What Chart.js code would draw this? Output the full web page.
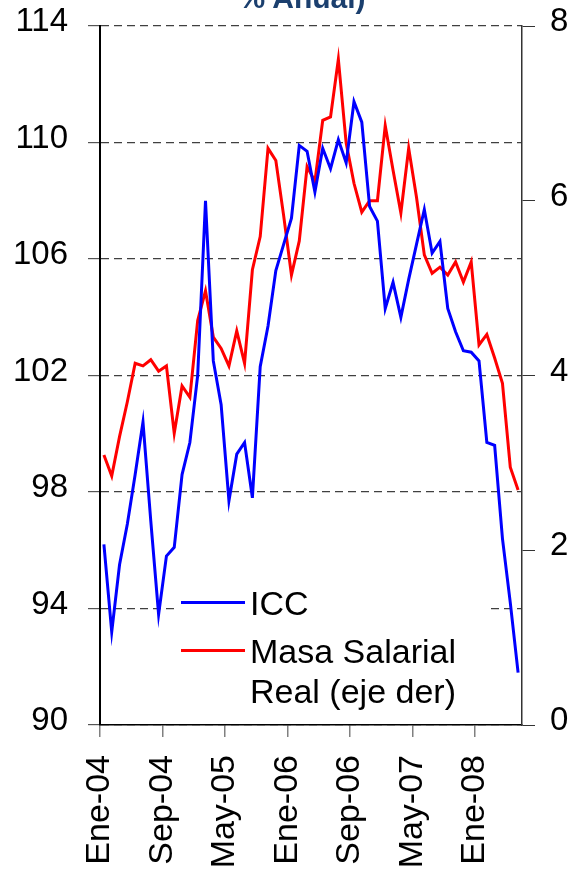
<!DOCTYPE html>
<html lang="es">
<head>
<meta charset="utf-8">
<title>ICC y Masa Salarial Real</title>
<script src="https://cdn.jsdelivr.net/npm/chart.js@4.4.1/dist/chart.umd.min.js"></script>
<style>
  html, body { margin: 0; padding: 0; background: #fff; }
  #wrap { position: relative; width: 579px; height: 869px; overflow: hidden; font-family: 'Liberation Sans', Arial, sans-serif; }
  #chart { position: absolute; left: 0; top: 0; }
  #title { position: absolute; left: 0; width: 604px; top: -17px; text-align: center; font-weight: bold; font-size: 30px; line-height: 30px; color: #1b3f6e; }
  #legend { position: absolute; left: 177px; top: 574px; width: 312px; height: 130px; background: #fff; }
  .swatch { position: absolute; left: 4px; width: 64px; height: 3px; }
  .label { position: absolute; left: 73px; font-size: 34px; line-height: 40px; color: #000; white-space: nowrap; }
</style>
</head>
<body>
<div id="wrap">
  <canvas id="chart" width="579" height="869"></canvas>
  <div id="title">% Anual)</div>
  <div id="legend"></div>
</div>
<script>
// Data
const months = [
  'Ene-04', 'Feb-04', 'Mar-04', 'Abr-04', 'May-04', 'Jun-04', 'Jul-04', 'Ago-04', 'Sep-04', 'Oct-04', 'Nov-04', 'Dic-04',
  'Ene-05', 'Feb-05', 'Mar-05', 'Abr-05', 'May-05', 'Jun-05', 'Jul-05', 'Ago-05', 'Sep-05', 'Oct-05', 'Nov-05', 'Dic-05',
  'Ene-06', 'Feb-06', 'Mar-06', 'Abr-06', 'May-06', 'Jun-06', 'Jul-06', 'Ago-06', 'Sep-06', 'Oct-06', 'Nov-06', 'Dic-06',
  'Ene-07', 'Feb-07', 'Mar-07', 'Abr-07', 'May-07', 'Jun-07', 'Jul-07', 'Ago-07', 'Sep-07', 'Oct-07', 'Nov-07', 'Dic-07',
  'Ene-08', 'Feb-08', 'Mar-08', 'Abr-08', 'May-08', 'Jun-08'
];

// ICC (eje izq)
const icc = [
  96.2, 93.2, 95.5, 96.9, 98.6, 100.4, 97.0, 93.8, 95.8, 96.1, 98.6, 99.7,
  102.0, 108.0, 102.5, 101.0, 97.7, 99.3, 99.7, 97.8, 102.3, 103.7, 105.6, 106.5,
  107.4, 109.9, 109.7, 108.3, 109.8, 109.1, 110.1, 109.3, 111.4, 110.7, 107.8, 107.3,
  104.3, 105.2, 104.0, 105.3, 106.5, 107.7, 106.2, 106.6, 104.3, 103.5, 102.85, 102.8,
  102.5, 99.7, 99.6, 96.4, 94.2, 91.8
];

// Masa Salarial Real (eje der)
const masaSalarial = [
  3.09, 2.85, 3.30, 3.70, 4.14, 4.11, 4.18, 4.05, 4.11, 3.34, 3.88, 3.75,
  4.63, 4.97, 4.44, 4.31, 4.11, 4.51, 4.14, 5.21, 5.59, 6.60, 6.46, 5.83,
  5.15, 5.54, 6.39, 6.22, 6.92, 6.96, 7.62, 6.66, 6.20, 5.87, 6.00, 6.00,
  6.86, 6.35, 5.86, 6.60, 6.04, 5.38, 5.17, 5.24, 5.15, 5.30, 5.07, 5.30,
  4.35, 4.47, 4.20, 3.91, 2.95, 2.69
];

const leftTicks = [90, 94, 98, 102, 106, 110, 114];
const rightTicks = [0, 2, 4, 6, 8];
const labelEvery = 8;

const FONT = "'Liberation Sans', Arial, sans-serif";

// fixed box sizes so the plot area lands where the reference has it
function fitY(width) {
  return s => {
    s.width = width;
    s.paddingTop = 0;
    s.paddingBottom = 0;
  };
}

// Chart
const chart = new Chart(document.getElementById('chart'), {
  type: 'line',
  data: {
    labels: months,
    datasets: [
      { label: 'ICC', data: icc, yAxisID: 'y', borderColor: '#0000ff', borderWidth: 3, pointRadius: 0, tension: 0 },
      { label: 'Masa Salarial\nReal (eje der)', data: masaSalarial, yAxisID: 'y2', borderColor: '#ff0000', borderWidth: 3, pointRadius: 0, tension: 0 }
    ]
  },
  options: {
    responsive: false,
    animation: false,
    layout: { padding: { top: 26 } },
    plugins: { legend: { display: false }, tooltip: { enabled: false } },
    scales: {
      x: {
        offset: true,
        afterFit: s => { s.height = 144; },
        grid: {
          offset: true,
          drawOnChartArea: false,
          tickLength: 12,
          lineWidth: 1.5,
          color: ctx => ctx.index % labelEvery === 0 ? '#808080' : 'rgba(0,0,0,0)'
        },
        border: { color: '#000', width: 1.5 },
        ticks: {
          autoSkip: false,
          minRotation: 90,
          maxRotation: 90,
          padding: 18,
          labelOffset: -4,
          color: '#000',
          font: { family: FONT, size: 34 },
          callback: (v, i) => i % labelEvery === 0 ? months[i] : ''
        }
      },
      y: {
        position: 'left',
        min: leftTicks[0],
        max: leftTicks[leftTicks.length - 1],
        afterFit: fitY(100),
        afterBuildTicks: s => { s.ticks = leftTicks.map(v => ({ value: v })); },
        grid: { color: '#404040', tickColor: '#555', tickLength: 12, lineWidth: 1.2 },
        border: { color: '#000', width: 2, dash: [8, 5] },
        ticks: { padding: 20, labelOffset: -4, color: '#000', font: { family: FONT, size: 33 } }
      },
      y2: {
        position: 'right',
        min: rightTicks[0],
        max: rightTicks[rightTicks.length - 1],
        afterFit: fitY(57),
        afterBuildTicks: s => { s.ticks = rightTicks.map(v => ({ value: v })); },
        grid: { drawOnChartArea: false, color: '#333', tickLength: 13, lineWidth: 1 },
        border: { color: '#333', width: 1.5 },
        ticks: { padding: 15, labelOffset: -4, color: '#000', font: { family: FONT, size: 33 } }
      }
    }
  }
});

// Legend (inside plot, lower right)
const legend = document.getElementById('legend');
const rows = [{ top: 9, lineTop: 27 }, { top: 57, lineTop: 75 }];
chart.data.datasets.forEach((ds, i) => {
  const sw = document.createElement('div');
  sw.className = 'swatch';
  sw.style.top = rows[i].lineTop + 'px';
  sw.style.background = ds.borderColor;
  legend.appendChild(sw);

  const lbl = document.createElement('div');
  lbl.className = 'label';
  lbl.style.top = rows[i].top + 'px';
  lbl.innerHTML = ds.label.split('\n').join('<br>');
  legend.appendChild(lbl);
});
</script>
</body>
</html>
